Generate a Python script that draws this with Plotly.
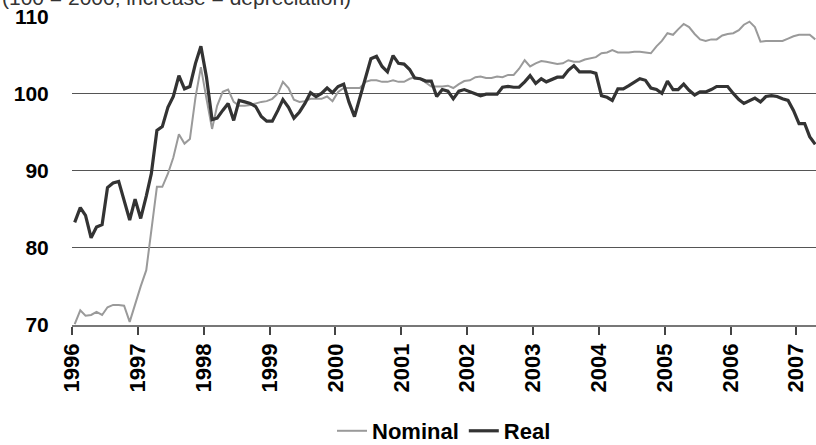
import pandas as pd
import plotly.graph_objects as go

# Monthly index values, Jan 1996 .. Apr 2007
start_month = "1996-01-01"
n_months = 136

nominal = [
    70.1, 71.9, 71.2, 71.3, 71.7, 71.3, 72.3, 72.6, 72.6, 72.5, 70.4, 72.8,
    75.0, 77.1, 82.5, 87.9, 87.9, 89.6, 91.7, 94.7, 93.5, 94.1, 99.5, 103.4,
    99.3, 95.4, 98.4, 100.2, 100.5, 98.9, 98.4, 98.4, 98.5, 98.7, 98.9, 99.0,
    99.3, 100.0, 101.5, 100.7, 99.2, 98.9, 99.0, 99.3, 99.3, 99.3, 99.6, 99.0,
    100.2, 100.7, 100.7, 100.7, 100.7, 101.5, 101.7, 101.7, 101.5, 101.5, 101.7, 101.5,
    101.5, 101.9, 102.1, 101.9, 101.4, 100.9, 100.9, 100.9, 101.0, 100.7, 101.2, 101.6,
    101.7, 102.1, 102.2, 102.0, 102.0, 102.2, 102.1, 102.4, 102.4, 103.2, 104.3, 103.5,
    103.9, 104.2, 104.1, 103.9, 103.8, 103.9, 104.3, 104.1, 104.1, 104.4, 104.6, 104.7,
    105.2, 105.3, 105.6, 105.3, 105.3, 105.3, 105.4, 105.4, 105.3, 105.2, 106.1, 106.8,
    107.8, 107.6, 108.3, 109.0, 108.6, 107.7, 107.0, 106.8, 107.0, 107.0, 107.5, 107.7,
    107.8, 108.2, 108.9, 109.3, 108.6, 106.7, 106.8, 106.8, 106.8, 106.8, 107.1, 107.4,
    107.6, 107.6, 107.6, 107.0,
]

real = [
    83.3, 85.2, 84.2, 81.3, 82.7, 83.0, 87.8, 88.4, 88.6, 86.1, 83.6, 86.3,
    83.8, 86.7, 89.6, 95.2, 95.7, 98.2, 99.6, 102.3, 100.6, 100.9, 103.9, 106.1,
    102.1, 96.6, 96.8, 97.8, 98.7, 96.5, 99.1, 98.9, 98.7, 98.3, 97.0, 96.4,
    96.4, 97.8, 99.2, 98.2, 96.8, 97.6, 98.7, 100.1, 99.6, 100.0, 100.7, 100.1,
    100.9, 101.2, 98.9, 97.0, 99.6, 102.0, 104.5, 104.8, 103.5, 102.8, 104.9, 103.9,
    103.8, 103.1, 102.0, 101.9, 101.6, 101.6, 99.6, 100.5, 100.3, 99.3, 100.3, 100.5,
    100.2, 100.0, 99.7, 99.9, 99.9, 99.9, 100.8, 100.9, 100.8, 100.8, 101.5, 102.3,
    101.3, 101.9, 101.5, 101.8, 102.1, 102.1, 103.0, 103.6, 102.8, 102.8, 102.8, 102.6,
    99.7, 99.5, 99.1, 100.6, 100.6, 101.0, 101.4, 101.9, 101.7, 100.7, 100.5, 100.0,
    101.6, 100.5, 100.5, 101.2, 100.4, 99.8, 100.2, 100.2, 100.5, 100.9, 100.9, 100.9,
    100.0, 99.2, 98.7, 99.1, 99.4, 98.9, 99.6, 99.7, 99.6, 99.3, 99.1, 97.8,
    96.1, 96.1, 94.4, 93.4,
]

year_labels = [str(y) for y in range(1996, 2008)]
y_ticks = [70, 80, 90, 100, 110]
subtitle = "(100 = 2000; increase = depreciation)"

months = pd.date_range(start_month, periods=n_months, freq="MS") + pd.Timedelta(days=15)
year_ticks = [f"{y}-01-01" for y in year_labels]

FONT = "Liberation Sans, Arial, sans-serif"

fig = go.Figure()
fig.add_trace(go.Scatter(
    x=months, y=nominal, mode="lines", name="Nominal",
    line=dict(color="#9a9a9a", width=2),
))
fig.add_trace(go.Scatter(
    x=months, y=real, mode="lines", name="Real",
    line=dict(color="#333333", width=3.2),
))

fig.update_layout(
    width=816, height=445,
    margin=dict(l=72, r=0, t=16, b=120, autoexpand=False),
    paper_bgcolor="white", plot_bgcolor="white",
    font=dict(family=FONT, color="black"),
    showlegend=True,
    legend=dict(
        orientation="h", x=0.5, xanchor="center", y=-0.343, yanchor="middle",
        font=dict(family=FONT, size=22, color="black", weight="bold"),
        itemwidth=30, bgcolor="rgba(0,0,0,0)",
    ),
    annotations=[dict(
        text=subtitle, xref="paper", yref="paper",
        x=-72 / 744, y=1.017, xanchor="left", yanchor="bottom",
        showarrow=False, font=dict(family=FONT, size=21, color="#333333"),
    )],
)

fig.update_xaxes(
    type="date", range=["1996-01-01", "2007-04-20"],
    tickmode="array", tickvals=year_ticks, ticktext=year_labels,
    tickangle=-90, ticks="outside", ticklen=8, tickwidth=1.5, tickcolor="#444444",
    showline=True, linecolor="#777777", linewidth=1.5,
    showgrid=False, zeroline=False,
    tickfont=dict(family=FONT, size=22, color="black", weight="bold"),
)
fig.update_yaxes(
    range=[70, 110.03], tickmode="array", tickvals=y_ticks,
    showgrid=True, gridcolor="#555555", gridwidth=1.2,
    zeroline=False, showline=False,
    ticks="outside", ticklen=18, tickcolor="rgba(0,0,0,0)",
    ticklabeloverflow="allow",
    tickfont=dict(family=FONT, size=21, color="black", weight="bold"),
)

fig.write_html(
    "out.html",
    config={"displayModeBar": False},
    post_script="document.body.style.margin='0';document.body.style.overflow='hidden';",
)
